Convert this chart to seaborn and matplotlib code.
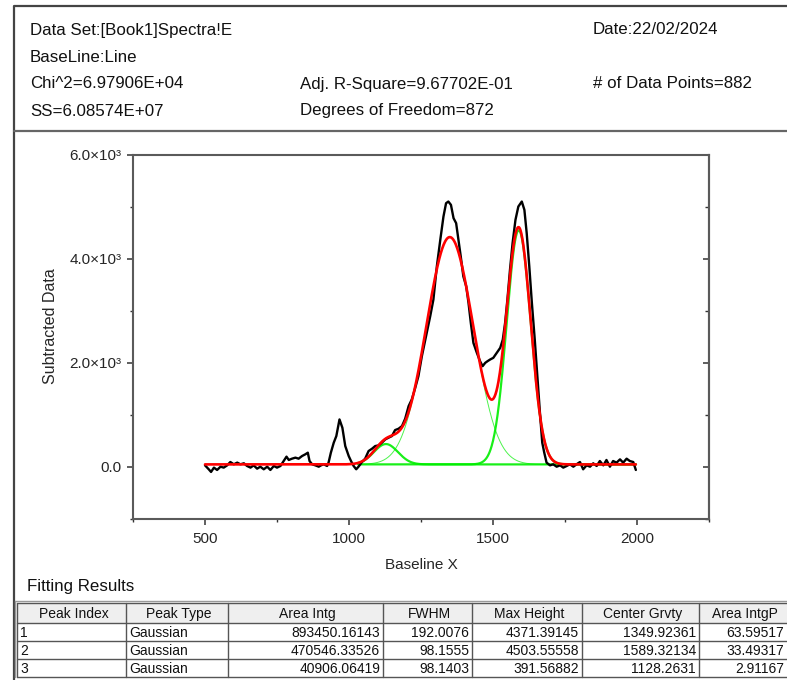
import numpy as np
import pandas as pd
import matplotlib
matplotlib.use("Agg")
import matplotlib.pyplot as plt
import seaborn as sns
from matplotlib.ticker import FixedLocator, FixedFormatter, MultipleLocator

# Baseline-subtracted spectrum
wavenumber = [
    500, 513, 521, 531, 542, 554, 565, 577, 588, 600, 612, 623, 635, 646, 658,
    669, 681, 692, 704, 716, 727, 739, 750, 762, 773, 783, 791, 802, 814, 825,
    837, 848, 857, 863, 872, 883, 895, 903, 912, 924, 929, 937, 947, 956, 967,
    977, 987, 999, 1007, 1016, 1025, 1033, 1045, 1056, 1068, 1080, 1091, 1103,
    1114, 1126, 1137, 1149, 1160, 1172, 1184, 1195, 1207, 1218, 1230, 1241,
    1253, 1265, 1282, 1293, 1305, 1317, 1328, 1337, 1345, 1354, 1363, 1372,
    1380, 1388, 1397, 1407, 1415, 1423, 1432, 1444, 1455, 1464, 1473, 1481,
    1490, 1501, 1513, 1525, 1534, 1542, 1550, 1559, 1568, 1578, 1588, 1600,
    1609, 1617, 1626, 1635, 1645, 1654, 1663, 1671, 1678, 1686, 1698, 1709,
    1721, 1733, 1744, 1756, 1767, 1779, 1790, 1802, 1813, 1825, 1837, 1848,
    1860, 1871, 1883, 1894, 1906, 1917, 1929, 1941, 1952, 1964, 1975, 1987,
    1996,
]
intensity = [
    32, -44, -95, -12, -57, 6, -12, 32, 96, 52, 84, 52, 71, 20, -12,
    32, -32, 6, -44, 6, -57, 20, -12, 20, 115, 199, 135, 160, 180, 160,
    211, 243, 275, 115, 52, 32, 6, 32, 52, 20, 84, 275, 467, 595, 915,
    755, 403, 211, 115, 20, -44, 6, 96, 160, 307, 352, 403, 416,
    467, 531, 563, 595, 710, 736, 787, 928, 1171, 1299, 1523, 1747,
    2131, 2450, 2900, 3218, 3858, 4370, 4817, 5073, 5105, 5041, 4785, 4689,
    4370, 4050, 3666, 3474, 3154, 2770, 2386, 2195, 2035, 1939, 2003, 2035,
    2067, 2099, 2195, 2291, 2450, 2770, 3218, 3794, 4306, 4753, 5009, 5105,
    4945, 4498, 3858, 3154, 2450, 1747, 1043, 467, 275, 84, 32, 52,
    6, 32, -12, 20, 52, 6, 52, 96, -44, 32, 6, 71,
    20, 115, 32, 135, 6, 115, 84, 147, 84, 160, 115, 96,
    -57,
]

# Fitted Gaussian peaks
peak_index = [1, 2, 3]
peak_type = ["Gaussian", "Gaussian", "Gaussian"]
area_intg = [893450.16143, 470546.33526, 40906.06419]
fwhm = [192.0076, 98.1555, 98.1403]
max_height = [4371.39145, 4503.55558, 391.56882]
center_grvty = [1349.92361, 1589.32134, 1128.2631]
area_intgp = [63.59517, 33.49317, 2.91167]
y_offset = 50.0
n_points = 882

# Fit report
report_left = ["Data Set:[Book1]Spectra!E", "BaseLine:Line", "Chi^2=6.97906E+04", "SS=6.08574E+07"]
report_mid = ["", "", "Adj. R-Square=9.67702E-01", "Degrees of Freedom=872"]
report_right = ["Date:22/02/2024", "", "# of Data Points=882", ""]

table_header = ["Peak Index", "Peak Type", "Area Intg", "FWHM", "Max Height", "Center Grvty", "Area IntgP"]

ytick_values = [0, 2000, 4000, 6000]
ytick_labels = ["0.0", "2.0×10³", "4.0×10³", "6.0×10³"]
xtick_values = [500, 1000, 1500, 2000]


def gaussian(x, xc, w, h):
    return h * np.exp(-4.0 * np.log(2.0) * (x - xc) ** 2 / w ** 2)


sns.set_theme(style="white")
plt.rcParams["font.family"] = ["Liberation Sans", "DejaVu Sans"]
plt.rcParams["text.color"] = "#111111"

W, H = 787, 680
fig = plt.figure(figsize=(W / 100, H / 100), dpi=100)
fig.patch.set_facecolor("white")

# page layer in pixel units
page = fig.add_axes([0, 0, 1, 1], zorder=0)
page.set_xlim(0, W)
page.set_ylim(H, 0)
page.axis("off")

frame_col = "#444444"
page.plot([14, 14], [6, H], color=frame_col, lw=1.6, solid_capstyle="butt")
page.plot([14, W], [6, 6], color=frame_col, lw=1.6)
page.plot([14, W], [131, 131], color="#666666", lw=1.6)

row_y = [30, 57, 84, 111]
for yy, a, b, c in zip(row_y, report_left, report_mid, report_right):
    page.text(30, yy, a, fontsize=12.2, va="center", ha="left")
    page.text(300, yy, b, fontsize=12.2, va="center", ha="left")
    page.text(593, yy, c, fontsize=12.2, va="center", ha="left")

page.text(27, 586, "Fitting Results", fontsize=12.2, va="center", ha="left")

# results table
col_edges = [17, 126, 228, 383, 472, 582, 699, 787]
t_top, t_head = 603, 623
row_bottoms = [641, 659, 677]
page.fill_between([col_edges[0], col_edges[-1]], t_top, t_head, color="#efefef", lw=0)
grid_col = "#555555"
for ye in [t_top, t_head] + row_bottoms:
    page.plot([col_edges[0], col_edges[-1]], [ye, ye], color=grid_col, lw=1.0)
for xe in col_edges[:-1]:
    page.plot([xe, xe], [t_top, row_bottoms[-1]], color=grid_col, lw=1.0)
page.plot([col_edges[0] - 2, col_edges[0] - 2], [t_top - 2, row_bottoms[-1]], color="#999999", lw=1.0)
page.plot([col_edges[0] - 2, col_edges[-1]], [t_top - 2, t_top - 2], color="#999999", lw=1.0)

for i, name in enumerate(table_header):
    page.text((col_edges[i] + col_edges[i + 1]) / 2 + 2, (t_top + t_head) / 2 + 1, name,
              fontsize=10, ha="center", va="center")

row_tops = [t_head] + row_bottoms[:-1]
for r in range(len(peak_index)):
    yc = (row_tops[r] + row_bottoms[r]) / 2 + 1
    page.text(col_edges[0] + 3, yc, str(peak_index[r]), fontsize=10, ha="left", va="center")
    page.text(col_edges[1] + 3, yc, peak_type[r], fontsize=10, ha="left", va="center")
    vals = [area_intg[r], fwhm[r], max_height[r], center_grvty[r], area_intgp[r]]
    for k, v in enumerate(vals):
        page.text(col_edges[k + 3] - 3, yc, str(v), fontsize=10, ha="right", va="center")

# spectrum and fit
ax = fig.add_axes([133 / W, (H - 519) / H, 576 / W, 364 / H], zorder=2)
ax.set_facecolor("white")

x_fit = np.linspace(min(wavenumber), max(wavenumber), n_points)
components = [gaussian(x_fit, c, w, h) for c, w, h in zip(center_grvty, fwhm, max_height)]
fit_total = y_offset + np.sum(components, axis=0)
comp_mask = x_fit >= 1030

green = "#00ee00"
comp_width = {1: 0.7, 2: 1.6, 3: 1.6}
for idx, comp in zip(peak_index, components):
    sns.lineplot(x=x_fit[comp_mask], y=y_offset + comp[comp_mask], ax=ax, color=green,
                 lw=comp_width[idx], sort=False, zorder=2, alpha=0.9 if idx > 1 else 0.7)

spec = pd.DataFrame({"Baseline X": wavenumber, "Subtracted Data": intensity})
sns.lineplot(data=spec, x="Baseline X", y="Subtracted Data", ax=ax, color="black",
             lw=1.7, sort=False, zorder=3)
sns.lineplot(x=x_fit, y=fit_total, ax=ax, color="#ff0000", lw=1.9, sort=False, zorder=4)

ax.set_xlim(250, 2250)
ax.set_ylim(-1000, 6000)

ax.xaxis.set_major_locator(FixedLocator(xtick_values))
ax.xaxis.set_minor_locator(MultipleLocator(250))
ax.yaxis.set_major_locator(FixedLocator(ytick_values))
ax.yaxis.set_major_formatter(FixedFormatter(ytick_labels))
ax.yaxis.set_minor_locator(MultipleLocator(1000))

for s in ax.spines.values():
    s.set_color("#5a5a5a")
    s.set_linewidth(1.5)
    s.set_visible(True)

ax.tick_params(axis="both", which="major", direction="out", length=4.5, width=1.1,
               color="#333333", labelsize=11, pad=3, bottom=True, left=True)
ax.tick_params(axis="both", which="minor", direction="out", length=2.5, width=1.0,
               color="#333333", bottom=True, left=True)
ax.tick_params(axis="y", which="major", pad=4)
ax.tick_params(axis="x", which="major", pad=5)

right = ax.secondary_yaxis("right")
right.yaxis.set_major_locator(FixedLocator(ytick_values))
right.yaxis.set_minor_locator(MultipleLocator(1000))
right.tick_params(which="major", direction="in", length=4, width=1.1, color="#333333", labelright=False)
right.tick_params(which="minor", direction="in", length=3, width=1.0, color="#333333")
right.spines["right"].set_color("#5a5a5a")
right.spines["right"].set_linewidth(1.5)

ax.set_xlabel("Baseline X", fontsize=11)
ax.set_ylabel("Subtracted Data", fontsize=11.5)
ax.xaxis.set_label_coords(0.5, -0.126)
ax.xaxis.label.set_verticalalignment("center")
ax.yaxis.set_label_coords(-0.144, 0.53)
ax.yaxis.label.set_verticalalignment("center")

fig.savefig("out.png", dpi=100, facecolor="white")
